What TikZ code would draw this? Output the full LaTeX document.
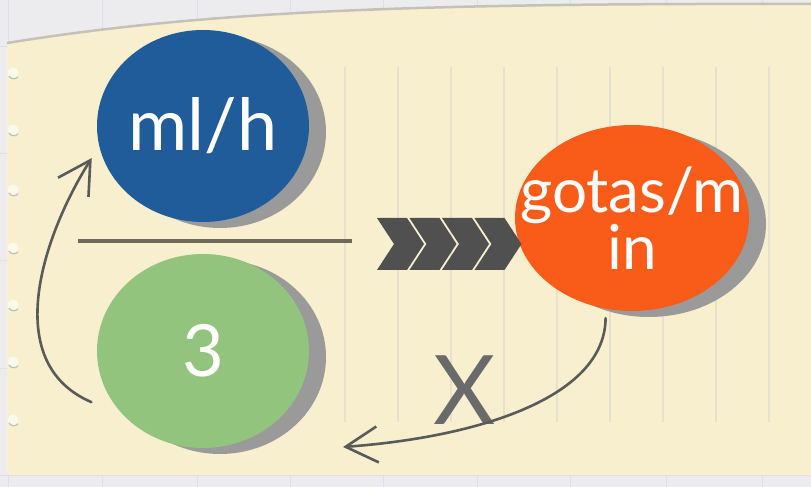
\documentclass[tikz,border=0pt]{standalone}
\usepackage{fontspec}
\setmainfont{Lato}
\usetikzlibrary{shapes.geometric,arrows.meta,shadows}
\definecolor{bg}{HTML}{ECECEE}
\definecolor{gridc}{HTML}{DEDEEC}
\definecolor{paper}{HTML}{F7EFCE}
\definecolor{paperedge}{HTML}{C4C2B8}
\definecolor{rule}{HTML}{E6E1CF}
\definecolor{blueb}{HTML}{1F5C99}
\definecolor{greenb}{HTML}{93C47D}
\definecolor{orangeb}{HTML}{F95C18}
\definecolor{shadowc}{HTML}{9A9A9A}
\definecolor{arrowc}{HTML}{5A5A5A}
\definecolor{chevc}{HTML}{505050}
\definecolor{barc}{HTML}{6E6959}
\definecolor{xc}{HTML}{6A6A6A}
\begin{document}
\begin{tikzpicture}[x=1pt,y=1pt,
  bubble/.style={ellipse, inner sep=0pt,
    general shadow={fill=shadowc, shadow xshift=17pt, shadow yshift=-6pt}},
  bubbletext/.style={text=white, align=center, inner sep=0pt},
  conn/.style={draw=arrowc, line width=2.6pt, line cap=round,
    -{Straight Barb[length=32pt,width=36pt,line width=2.6pt]}},
  chev/.style={fill=chevc},
  ruleline/.style={draw=rule, line width=1.1pt},
  gridline/.style={draw=gridc, line width=0.8pt}]
\useasboundingbox (0,0) rectangle (811,487);
% background with faint grid
\fill[bg] (0,0) rectangle (811,487);
\foreach \gx in {8,102,197,290,383,477,570,666,762}
  \draw[gridline] (\gx,0) -- (\gx,487);
\foreach \gy in {12,119,227,334,441}
  \draw[gridline] (0,\gy) -- (811,\gy);
% paper
\fill[paper] (7,12) -- (7,444) .. controls (200,475) and (400,484) .. (811,483)
  -- (811,12) -- cycle;
\draw[paperedge, line width=2.5pt] (7,444) .. controls (200,475) and (400,484) .. (811,483);
% paper notches
\foreach \ny in {414,357,297,239,182,125,67} {
  \fill[paper!40!white] (13,\ny) circle (5.5);
  \draw[gray!50, line width=1.2pt] (9,\ny-3) arc (210:320:5.5);
}
% ruled vertical lines
\foreach \rx in {345,398,451,504,557,610,663,716,769}
  \draw[ruleline] (\rx,420) -- (\rx,65);
% separator line
\coordinate (barL) at (78,246);
\coordinate (barR) at (352,246);
\draw[barc, line width=4pt] (barL) -- (barR);
% bubbles
\node[bubble, fill=blueb, minimum width=212pt, minimum height=192pt,
  label={[bubbletext, font=\fontsize{72}{72}\selectfont]center:ml/h}] (blue) at (203,361) {};
\node[bubble, fill=greenb, minimum width=212pt, minimum height=194pt,
  label={[bubbletext, font=\fontsize{72}{72}\selectfont]center:3}] (green) at (203,136) {};
\node[bubble, fill=orangeb, minimum width=234pt, minimum height=186pt,
  label={[bubbletext, font=\fontsize{62}{53}\selectfont]center:gotas/m\\in}] (orange) at (632,269) {};
% chevrons
\foreach \k in {0,1,2,3} {
  \pgfmathsetmacro{\xo}{377+32.5*\k}
  \fill[chev] (\xo,269) -- (\xo+30,269) -- (\xo+47,243) -- (\xo+30,217)
    -- (\xo,217) -- (\xo+17,243) -- cycle;
}
% X label
\node[text=xc, font=\fontsize{96}{96}\selectfont, inner sep=0pt] (xlab) at (465,97) {X};
% connectors
\coordinate (tipB) at (343,40);
\draw[conn] ([xshift=-17pt,yshift=-7pt]green.205) .. controls (-2,125) and (45,255) ..
  ([xshift=-10pt,yshift=-3pt]blue.196);
\draw[conn] ([xshift=-2pt,yshift=-9pt]orange.255) .. controls (605,90) and (480,50) .. (tipB);
\end{tikzpicture}
\end{document}
